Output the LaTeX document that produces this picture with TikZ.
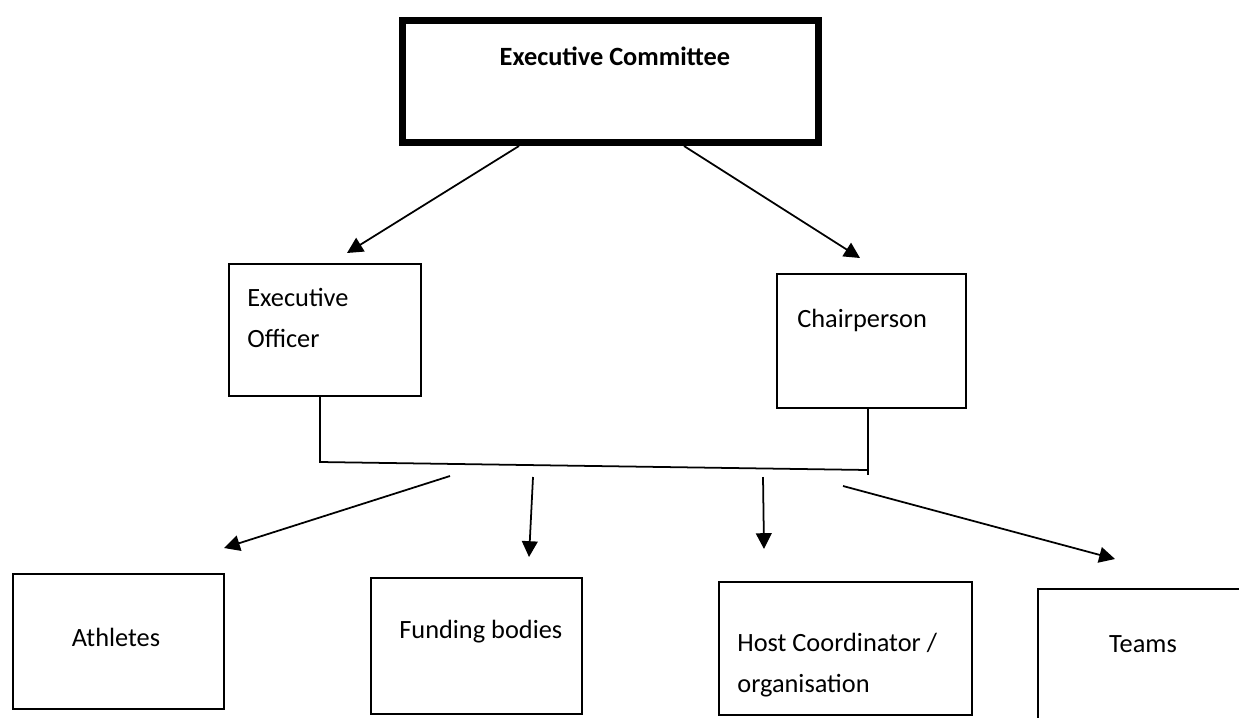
\documentclass[tikz,border=0pt]{standalone}
\usepackage{fontspec}
\setmainfont{Carlito}
\usetikzlibrary{arrows.meta}

\begin{document}
\begin{tikzpicture}[
    x=0.02cm, y=-0.02cm,
    box/.style={draw, line width=1pt, inner sep=0pt, anchor=north west},
    topbox/.style={box, line width=4pt},
    lbl/.style={inner sep=0pt, anchor=base west, align=left, font=\fontsize{15}{23}\selectfont},
    link/.style={line width=1pt},
    arr/.style={link, -{Triangle[length=9pt,width=9pt]}}
]

\useasboundingbox (0,0) rectangle (1239,717);

% =========================
% Top level
% =========================
\node[topbox, minimum width=8.32cm, minimum height=2.44cm] (ec) at (399,17) {};
\node[lbl, anchor=base, font=\fontsize{15}{23}\selectfont\bfseries] (ectxt) at (615,65) {Executive Committee};

% =========================
% Second level
% =========================
\node[box, minimum width=3.84cm, minimum height=2.64cm] (eo) at (228,263) {};
\node[lbl] (eotxt) at (247,347) {Executive\\Officer};

\node[box, minimum width=3.78cm, minimum height=2.68cm] (ch) at (776,273) {};
\node[lbl] (chtxt) at (797,327) {Chairperson};

% arrows down from the committee
\coordinate (toeo) at (347,253);
\coordinate (toch) at (860,258);
\draw[arr] ([xshift=2.4cm]ec.south west) -- (toeo);
\draw[arr] ([xshift=-2.76cm]ec.south east) -- (toch);

% joining bar
\coordinate (jl) at (320,462);
\coordinate (jr) at (868,470);
\draw[link] (eo.south -| jl) -- (jl) -- (jr);
\draw[link] (ch.south -| jr) -- ([yshift=-0.1cm]jr);

% =========================
% Bottom level
% =========================
\node[box, minimum width=4.22cm, minimum height=2.70cm] (ath) at (12,573) {};
\node[lbl, anchor=base] (athtxt) at (116,646) {Athletes};

\node[box, minimum width=4.22cm, minimum height=2.72cm] (fund) at (370,577) {};
\node[lbl] (fundtxt) at (399,638) {Funding bodies};

\node[box, minimum width=5.06cm, minimum height=2.66cm] (host) at (718,581) {};
\node[lbl] (hosttxt) at (737,692) {Host Coordinator /\\organisation};

\node[box, minimum width=4.4cm, minimum height=2.8cm] (teams) at (1037,588) {};
\node[lbl, anchor=base] (teamstxt) at (1143,652) {Teams};

% arrows from the bar
\coordinate (bar-ath) at (450,476);   \coordinate (tip-ath) at (224,548);
\coordinate (bar-fund) at (533,477);  \coordinate (tip-fund) at (529,557);
\coordinate (bar-host) at (763,477);  \coordinate (tip-host) at (764,549);
\coordinate (bar-teams) at (843,486); \coordinate (tip-teams) at (1115,559);

\foreach \n in {ath,fund,host,teams}
{
    \draw[arr] (bar-\n) -- (tip-\n);
}

\end{tikzpicture}
\end{document}
